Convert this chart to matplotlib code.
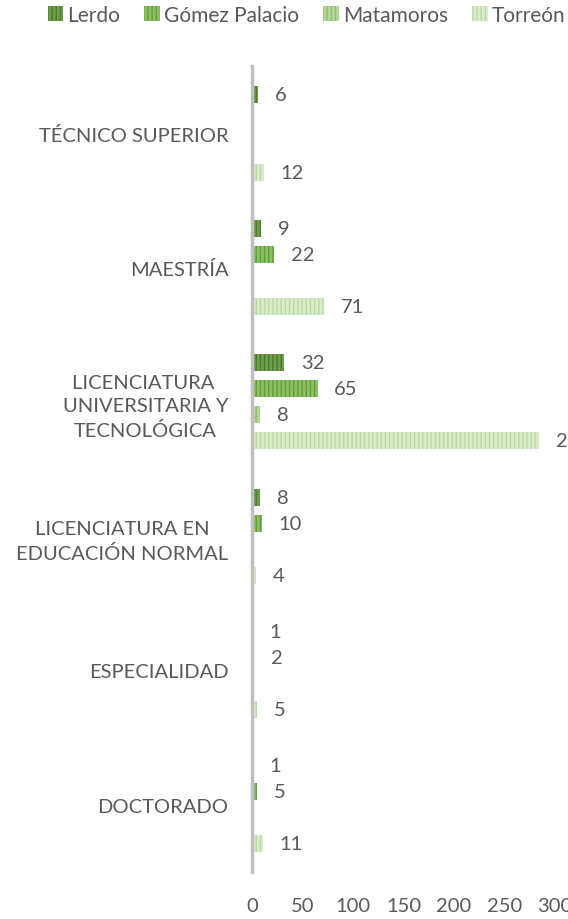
import numpy as np
import matplotlib
matplotlib.use("Agg")
import matplotlib.pyplot as plt
from matplotlib.patches import Patch

plt.rcParams['font.family'] = ['Lato', 'DejaVu Sans']
plt.rcParams['hatch.linewidth'] = 1.0

# data (bottom category first)
categories = ["DOCTORADO", "ESPECIALIDAD", "LICENCIATURA EN\nEDUCACIÓN NORMAL",
              "LICENCIATURA \nUNIVERSITARIA Y\nTECNOLÓGICA", "MAESTRÍA", "TÉCNICO SUPERIOR"]
series = ["Lerdo", "Gómez Palacio", "Matamoros", "Torreón"]
lerdo = [1, 1, 8, 32, 9, 6]
gomez = [5, 2, 10, 65, 22, None]
matamoros = [None, None, None, 8, None, None]
torreon = [11, 5, 4, 284, 71, 12]
x_ticks = [0, 50, 100, 150, 200, 250, 300]

face_colors = ["#6f9e4c", "#8cc063", "#b5d79b", "#d9ecca"]
hatch_colors = ["#4a7a2c", "#5f9d3a", "#8fbd6e", "#b9d9a3"]
text_color = "#595959"

fig = plt.figure(figsize=(5.68, 9.2), dpi=100)
ax = fig.add_axes([252 / 568, 1 - 873 / 920, 303 / 568, 806 / 920])

y = np.arange(len(categories))
pitch = 0.194
bar_h = 0.127
offsets = [1.5 * pitch, 0.5 * pitch, -0.5 * pitch, -1.5 * pitch]

for vals, off, fc, hc in zip([lerdo, gomez, matamoros, torreon], offsets, face_colors, hatch_colors):
    for i, v in enumerate(vals):
        if v is None:
            continue
        ax.barh(y[i] + off, v, height=bar_h, color=fc, edgecolor=hc, hatch='||||', linewidth=0)
        ax.annotate(str(v), (v, y[i] + off), xytext=(12, 0), textcoords='offset points',
                    ha='left', va='center', fontsize=14.5, color=text_color,
                    annotation_clip=False, clip_on=False)

ax.set_xlim(0, 300)
ax.set_ylim(-0.5, len(categories) - 0.5)
ax.set_xticks(x_ticks)
ax.set_xticklabels([str(t) for t in x_ticks], fontsize=14.5, color=text_color)
ax.set_yticks(y)
ax.set_yticklabels(categories, fontsize=14.5, color=text_color, linespacing=1.45,
                   multialignment='center')
ax.tick_params(axis='both', length=0)
ax.tick_params(axis='x', pad=18)
ax.tick_params(axis='y', pad=17)
for s in ['top', 'right', 'bottom']:
    ax.spines[s].set_visible(False)
ax.spines['left'].set_color('#bfbfbf')
ax.spines['left'].set_linewidth(2.5)

handles = [Patch(facecolor=fc, edgecolor=hc, hatch='||||', linewidth=0, label=s)
           for s, fc, hc in zip(series, face_colors, hatch_colors)]
fig.legend(handles=handles, loc='upper left', bbox_to_anchor=(29 / 568, 1.014), ncol=4,
           frameon=False, fontsize=15, handlelength=0.75, handleheight=0.75,
           handletextpad=0.2, columnspacing=1.15, labelcolor=text_color)

fig.savefig("out.png", dpi=100)
